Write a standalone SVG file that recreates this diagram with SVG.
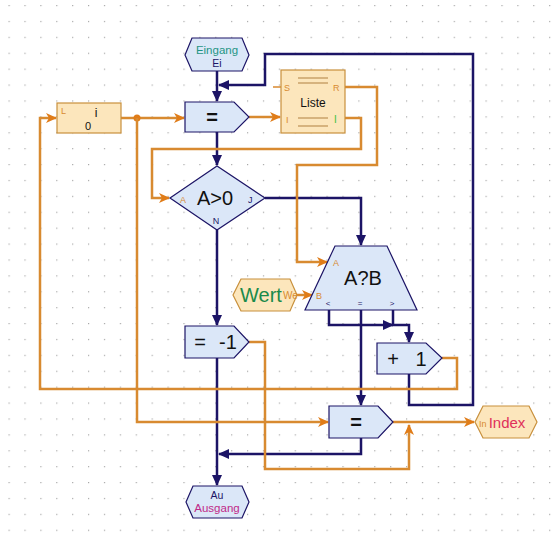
<svg xmlns="http://www.w3.org/2000/svg" width="555" height="544" viewBox="0 0 555 544">
<defs>
<pattern id="grid" x="8.5" y="5" width="15.9" height="15.9" patternUnits="userSpaceOnUse">
<rect x="0" y="0" width="1.2" height="1.2" fill="#a8a8a8"/>
</pattern>
<marker id="an" markerWidth="11" markerHeight="10" refX="10" refY="5" orient="auto" markerUnits="userSpaceOnUse"><path d="M0,0 L11,5 L0,10 z" fill="#1c1466"/></marker>
<marker id="ao" markerWidth="11" markerHeight="10" refX="10" refY="5" orient="auto" markerUnits="userSpaceOnUse"><path d="M0,0 L11,5 L0,10 L3,5 z" fill="#e07c18"/></marker>
<style>
text{font-family:"Liberation Sans",Arial,sans-serif;}
.nv{fill:none;stroke:#1c1466;stroke-width:2.5;marker-end:url(#an);}
.nvp{fill:none;stroke:#1c1466;stroke-width:2.5;}
.or{fill:none;stroke:#d88a30;stroke-width:2.5;marker-end:url(#ao);}
.orp{fill:none;stroke:#d88a30;stroke-width:2.5;}
.bl{fill:#dbe7f8;stroke:#1c1466;stroke-width:1.2;}
.tan{fill:#fce6bc;stroke:#c8903c;stroke-width:1.2;}
.big{font-size:20px;fill:#111;}
.sm{font-size:9px;}
.o{fill:#d88a30;}
.n{fill:#1c1466;}
</style>
</defs>
<rect width="555" height="544" fill="#ffffff"/>
<rect width="555" height="544" fill="url(#grid)"/>

<g id="connectors">
<path class="nv" d="M217,71 V101"/>
<path class="nv" d="M409,374 V405 H473 V54 H265 V85 H219"/>
<path class="nv" d="M217,132 V165"/>
<path class="nv" d="M265,198 H361 V245"/>
<path class="nv" d="M217,230 V325"/>
<path class="nv" d="M329,310 V325 H393"/>
<path class="nv" d="M393,310 V325 H409 V342"/>
<path class="nv" d="M361,310 V405"/>
<path class="nv" d="M217,358 V485"/>
<path class="nv" d="M361,438 V454 H219"/>

<path class="or" d="M121,118 H184"/>
<circle cx="137" cy="118" r="3.5" fill="#e07c18"/>
<path class="or" d="M137,118 V422 H328"/>
<path class="or" d="M249,117 H280"/>
<path class="or" d="M345,118 H361 V149 H152 V198 H169"/>
<path class="or" d="M345,87 H377 V165 H297 V262 H327"/>
<path class="or" d="M297,295 H312"/>
<path class="or" d="M442,358 H457 V389 H40 V118 H56"/>
<path class="or" d="M249,342 H265 V469 H409 V425"/>
<path class="or" d="M393,422 H474"/>
<path d="M273,87 H281" stroke="#d88a30" stroke-width="1.5"/>
</g>

<g id="eingang">
<polygon class="bl" points="185,55 192,38 242,38 249,55 242,71 192,71"/>
<text x="217" y="54" font-size="11.5" text-anchor="middle" fill="#1f9585">Eingang</text>
<text x="217" y="67" font-size="10.5" text-anchor="middle" fill="#1c1466">Ei</text>
</g>

<g id="var-i">
<rect class="tan" x="57" y="103" width="64" height="30"/>
<text x="61" y="114" class="sm o">L</text>
<text x="96" y="117" font-size="12" text-anchor="middle" fill="#111">i</text>
<text x="88" y="130" font-size="11" text-anchor="middle" fill="#111">0</text>
</g>

<g id="assign1">
<polygon class="bl" points="185,102 234,102 249,117 234,132 185,132"/>
<text x="212" y="124" font-size="20" font-weight="bold" text-anchor="middle" fill="#111">=</text>
</g>

<g id="liste">
<rect class="tan" x="281" y="70" width="64" height="63"/>
<line x1="298" y1="78" x2="328" y2="78" stroke="#b08040" stroke-width="1"/>
<line x1="298" y1="83" x2="328" y2="83" stroke="#b08040" stroke-width="1"/>
<line x1="298" y1="118" x2="328" y2="118" stroke="#b08040" stroke-width="1"/>
<line x1="298" y1="126" x2="328" y2="126" stroke="#b08040" stroke-width="1"/>
<text x="284" y="91" class="sm o" font-size="10">S</text>
<text x="333" y="91" class="sm o" font-size="10">R</text>
<text x="313" y="107" font-size="12" text-anchor="middle" fill="#111">Liste</text>
<text x="286" y="123" class="sm o" font-size="10">I</text>
<text x="334" y="123" font-size="10" fill="#3cc03c">I</text>
</g>

<g id="cond">
<polygon class="bl" points="170,198 217,166 265,198 217,230"/>
<text x="215" y="205" class="big" text-anchor="middle">A&gt;0</text>
<text x="180" y="203" class="sm o">A</text>
<text x="248" y="203" class="sm n">J</text>
<text x="216" y="224" class="sm n" text-anchor="middle">N</text>
</g>

<g id="compare">
<polygon class="bl" points="335,246 387,246 417,310 305,310"/>
<text x="363" y="285" class="big" text-anchor="middle">A?B</text>
<text x="333" y="266" class="sm o" font-size="10">A</text>
<text x="316" y="299" class="sm o" font-size="10">B</text>
<text x="328" y="306" font-size="8" text-anchor="middle" fill="#1c1466">&lt;</text>
<text x="360" y="306" font-size="8" text-anchor="middle" fill="#1c1466">=</text>
<text x="392" y="306" font-size="8" text-anchor="middle" fill="#1c1466">&gt;</text>
</g>

<g id="wert">
<polygon class="tan" points="233,295 241,279 290,279 297,295 290,311 241,311"/>
<text x="261" y="302" font-size="20" text-anchor="middle" fill="#1a8a4a">Wert</text>
<text x="283" y="299" font-size="10" class="o">We</text>
</g>

<g id="assign-minus1">
<polygon class="bl" points="185,326 234,326 249,342 234,358 185,358"/>
<text x="200" y="349" class="big" text-anchor="middle">=</text>
<text x="228" y="349" class="big" text-anchor="middle">-1</text>
</g>

<g id="plus1">
<polygon class="bl" points="377,343 426,343 442,358 426,374 377,374"/>
<text x="393" y="366" class="big" text-anchor="middle">+</text>
<text x="421" y="366" class="big" text-anchor="middle">1</text>
</g>

<g id="assign2">
<polygon class="bl" points="329,406 378,406 393,422 378,438 329,438"/>
<text x="356" y="429" font-size="20" font-weight="bold" text-anchor="middle" fill="#111">=</text>
</g>

<g id="index">
<polygon class="tan" points="475,422 483,406 529,406 537,422 529,438 483,438"/>
<text x="479" y="427" font-size="9" class="o">In</text>
<text x="507" y="428" font-size="15" text-anchor="middle" fill="#e0305a">Index</text>
</g>

<g id="ausgang">
<polygon class="bl" points="186,502 193,486 242,486 249,502 242,518 193,518"/>
<text x="217" y="499" font-size="10.5" text-anchor="middle" fill="#1c1466">Au</text>
<text x="217" y="512" font-size="11.5" text-anchor="middle" fill="#c02a88">Ausgang</text>
</g>
</svg>
